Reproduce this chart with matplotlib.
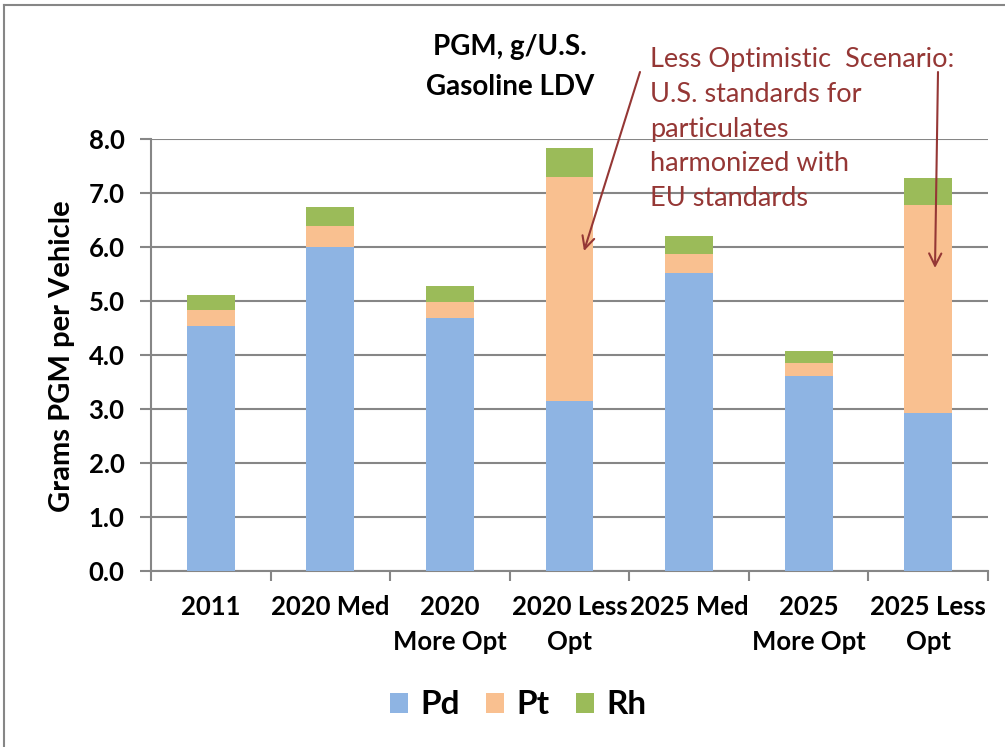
import numpy as np
import matplotlib.pyplot as plt
from matplotlib.lines import Line2D

plt.rcParams['font.family'] = ['Lato', 'DejaVu Sans']

# data
categories = ['2011', '2020 Med', '2020\nMore Opt', '2020 Less\nOpt',
              '2025 Med', '2025\nMore Opt', '2025 Less\nOpt']
pd_vals = [4.54, 6.00, 4.69, 3.14, 5.52, 3.62, 2.92]
pt_tops = [4.83, 6.38, 4.99, 7.30, 5.87, 3.86, 6.78]
rh_tops = [5.12, 6.75, 5.28, 7.84, 6.21, 4.08, 7.28]
pt_vals = [t - b for t, b in zip(pt_tops, pd_vals)]
rh_vals = [t - b for t, b in zip(rh_tops, pt_tops)]
yticks = [0.0, 1.0, 2.0, 3.0, 4.0, 5.0, 6.0, 7.0, 8.0]

c_pd = '#8EB4E3'
c_pt = '#F9C090'
c_rh = '#9BBB59'
grid_c = '#868686'
note_c = '#953735'

W, H = 1005, 747
fig = plt.figure(figsize=(W / 100, H / 100), dpi=100)
ax = fig.add_axes([151 / W, 1 - 571 / H, (988 - 151) / W, (571 - 139) / H])

x = np.arange(len(categories))
ax.bar(x, pd_vals, 0.4, color=c_pd, label='Pd', zorder=3)
ax.bar(x, pt_vals, 0.4, bottom=pd_vals, color=c_pt, label='Pt', zorder=3)
ax.bar(x, rh_vals, 0.4, bottom=pt_tops, color=c_rh, label='Rh', zorder=3)

ax.set_xlim(-0.5, len(categories) - 0.5)
ax.set_ylim(0, 8)
ax.set_yticks(yticks)
ax.set_yticklabels([f'{v:.1f}' for v in yticks], fontsize=18.5, fontweight='bold')
ax.set_xticks(x)
ax.set_xticklabels(categories, fontsize=18.5, fontweight='bold', linespacing=1.55)
ax.set_xticks(np.arange(-0.5, len(categories)), minor=True)
ax.tick_params(axis='x', which='major', length=0, pad=17)
ax.tick_params(axis='x', which='minor', length=7, width=1.5, color=grid_c)
ax.tick_params(axis='y', length=8, width=1.5, color=grid_c, pad=11)
ax.yaxis.grid(True, color=grid_c, linewidth=1.5, zorder=0)
ax.set_axisbelow(True)
for s in ['top', 'right']:
    ax.spines[s].set_visible(False)
for s in ['left', 'bottom']:
    ax.spines[s].set_color(grid_c)
    ax.spines[s].set_linewidth(1.5)

fig.text(62 / W, 1 - 356 / H, 'Grams PGM per Vehicle', rotation=90,
         ha='center', va='center', fontsize=21, fontweight='bold')

fig.text(510 / W, 1 - 67 / H, 'PGM, g/U.S.\nGasoline LDV', ha='center', va='center',
         fontsize=20, fontweight='bold', linespacing=1.65)

fig.text(650 / W, 1 - 129 / H,
         'Less Optimistic  Scenario:\nU.S. standards for\nparticulates\nharmonized with\nEU standards',
         ha='left', va='center', fontsize=19.5, color=note_c, linespacing=1.48)

# arrows from the note down into the "Less Opt" bars
for (x0, y0), (x1, y1) in [((640, 72), (584, 251)), ((938, 72), (935, 268))]:
    fig.add_artist(plt.Annotation(
        '', xy=(x1 / W, 1 - y1 / H), xytext=(x0 / W, 1 - y0 / H),
        xycoords='figure fraction', textcoords='figure fraction',
        arrowprops=dict(arrowstyle='->', color=note_c, lw=1.5,
                        mutation_scale=22, shrinkA=0, shrinkB=0)))

fig.legend(loc='center', bbox_to_anchor=(518 / W, 1 - 705 / H), ncol=3,
           frameon=False, prop={'weight': 'bold', 'size': 24},
           handlelength=0.55, handleheight=0.55, handletextpad=0.35,
           columnspacing=0.8)

# outer chart border
fig.add_artist(Line2D([4 / W, 4 / W], [0, 1 - 5 / H], color=grid_c, lw=1.5))
fig.add_artist(Line2D([4 / W, 1], [1 - 5 / H, 1 - 5 / H], color=grid_c, lw=1.5))

fig.savefig('out.png', dpi=100)
